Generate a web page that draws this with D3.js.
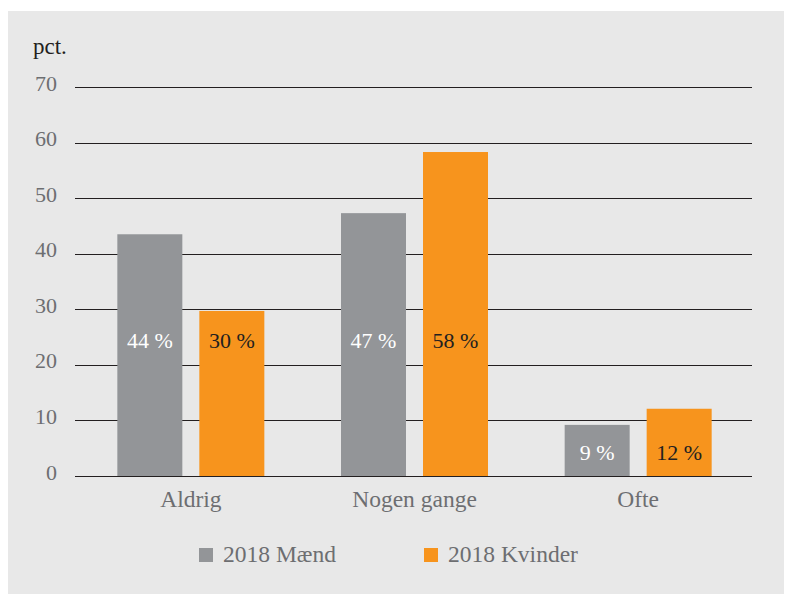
<!DOCTYPE html>
<html>
<head>
<meta charset="utf-8">
<script src="https://cdn.jsdelivr.net/npm/d3@7"></script>
<style>
  body { margin: 0; background: #ffffff; }
  svg { display: block; }
</style>
</head>
<body>
<svg id="canvas"></svg>
<script>
let categories = ['Aldrig', 'Nogen gange', 'Ofte'];
let seriesNames = ['2018 Mænd', '2018 Kvinder'];
let maendValues = [43.5, 47.3, 9.2];
let kvinderValues = [29.7, 58.3, 12.1];
let valueLabels = [['44 %', '47 %', '9 %'], ['30 %', '58 %', '12 %']];
let yTicks = [0, 10, 20, 30, 40, 50, 60, 70];

let width = 785;
let height = 594;
let colors = ['#939598', '#f7941d'];
let labelColors = ['#ffffff', '#231f20'];
let font = "'Liberation Serif', serif";

let canvas = d3.select('#canvas').attr('width', width).attr('height', height);

// grey panel
canvas.append('rect')
  .attr('x', 8).attr('y', 11)
  .attr('width', 776).attr('height', height - 11)
  .attr('fill', '#e8e8e8');

let xScale = d3.scaleBand().domain(categories).range([79, 750]);
let innerScale = d3.scaleBand().domain([0, 1]).range([0, 147]).paddingInner(17 / 82);
let yScale = d3.scaleLinear().domain([0, 70]).range([476, 87]);

// gridlines
canvas.append('g')
  .selectAll('line')
  .data(yTicks)
  .join('line')
  .attr('x1', 75).attr('x2', 752)
  .attr('y1', d => Math.round(yScale(d)) + 0.5)
  .attr('y2', d => Math.round(yScale(d)) + 0.5)
  .attr('stroke', '#231f20')
  .attr('stroke-width', 1.2);

// y axis labels
let yAxis = d3.axisLeft(yScale).tickValues(yTicks).tickSize(0).tickPadding(0);
let yG = canvas.append('g').attr('transform', 'translate(57,-4)').call(yAxis);
yG.select('.domain').remove();
yG.selectAll('text')
  .style('font-family', font).attr('font-size', 22).attr('fill', '#6d6e71');

// x axis labels
let xAxis = d3.axisBottom(xScale).tickSize(0).tickPadding(0);
let xG = canvas.append('g').attr('transform', 'translate(0,507)').call(xAxis);
xG.select('.domain').remove();
xG.selectAll('text')
  .attr('y', 0).attr('dy', null)
  .style('font-family', font).attr('font-size', 23.5).attr('fill', '#6d6e71');

// bars
let seriesData = [maendValues, kvinderValues];
seriesData.forEach((vals, s) => {
  let rows = categories.map((c, i) => ({ cat: c, value: vals[i], label: valueLabels[s][i] }));
  let groupOffset = (xScale.bandwidth() - innerScale.range()[1]) / 2;
  canvas.append('g')
    .selectAll('rect')
    .data(rows)
    .join('rect')
    .attr('x', d => xScale(d.cat) + groupOffset + innerScale(s))
    .attr('y', d => yScale(d.value))
    .attr('width', innerScale.bandwidth())
    .attr('height', d => yScale(0) - yScale(d.value))
    .attr('fill', colors[s]);

  canvas.append('g')
    .selectAll('text')
    .data(rows)
    .join('text')
    .attr('x', d => xScale(d.cat) + groupOffset + innerScale(s) + innerScale.bandwidth() / 2)
    .attr('y', d => yScale(d.value > 20 ? 24.5 : 4.2))
    .attr('dy', '0.35em')
    .attr('text-anchor', 'middle')
    .style('font-family', font)
    .attr('font-size', 22)
    .attr('fill', labelColors[s])
    .text(d => d.label);
});

// y title
canvas.append('text')
  .attr('x', 33).attr('y', 54)
  .style('font-family', font)
  .attr('font-size', 23)
  .attr('fill', '#231f20')
  .text('pct.');

// legend
let legendX = [199, 424];
let legend = canvas.append('g')
  .selectAll('g')
  .data(seriesNames)
  .join('g')
  .attr('transform', (d, i) => `translate(${legendX[i]},548)`);
legend.append('rect')
  .attr('width', 14).attr('height', 14)
  .attr('fill', (d, i) => colors[i]);
legend.append('text')
  .attr('x', 24).attr('y', 14)
  .style('font-family', font)
  .attr('font-size', 23.5)
  .attr('fill', '#6d6e71')
  .text(d => d);
</script>
</body>
</html>
